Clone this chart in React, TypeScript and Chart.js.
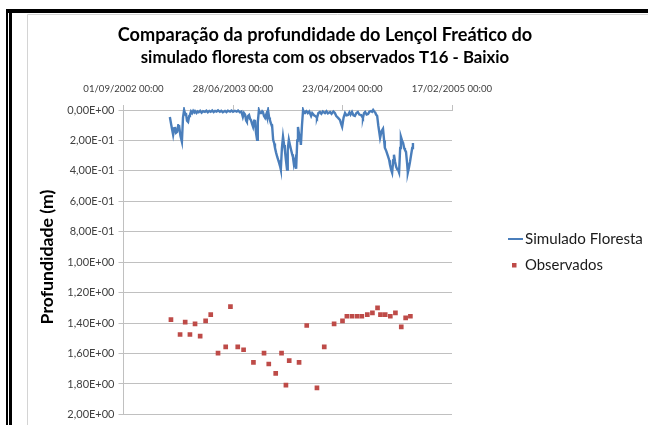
import React, { useEffect, useRef } from 'react';
import { Chart, registerables } from 'chart.js';
Chart.register(...registerables);

// ---- data (x = days since 01/09/2002, y = depth in m) ----
const simDays = [127,131,136,139,141,144,147,150,152,156,160,163,166,169,171,174,177,180,182,185,188,191,194,196,200,203,206,210,214,218,223,227,231,235,239,243,247,251,255,259,264,268,272,278,282,286,292,296,300,305,310,314,319,323,327,330,333,336,338,341,344,347,349,352,355,358,360,363,366,368,371,374,377,380,382,385,388,391,393,395,396,399,401,404,407,410,413,415,418,421,424,426,429,431,434,437,440,442,445,448,450,453,456,459,462,464,467,470,473,476,478,481,484,486,489,492,495,497,501,505,509,514,517,519,522,525,528,530,534,538,542,546,552,556,560,566,570,575,579,583,588,591,593,596,599,603,607,611,615,619,622,626,630,634,638,642,646,651,654,656,659,662,666,670,674,678,681,684,687,689,692,695,698,701,703,707,711,714,716,720,725,728,730,733,736,739,741,744,747,750,752,755,758,760,763,766,769,771,774,777,779,782,785,788,791,793];
const simDepth = [0.046,0.10,0.163,0.12,0.111,0.15,0.144,0.10,0.098,0.17,0.209,0.05,0.0,0.03,0.02,0.07,0.078,0.04,0.033,0.01,0.02,0.005,0.015,0.007,0.02,0.01,0.015,0.005,0.018,0.008,0.012,0.004,0.015,0.006,0.012,0.003,0.014,0.006,0.01,0.002,0.012,0.005,0.015,0.006,0.014,0.004,0.01,0.003,0.012,0.005,0.01,0.003,0.015,0.01,0.046,0.02,0.03,0.07,0.078,0.04,0.033,0.06,0.065,0.09,0.111,0.07,0.065,0.15,0.196,0.08,0.0,0.02,0.02,0.008,0.013,0.04,0.052,0.03,0.046,0.01,0.0,0.05,0.065,0.09,0.098,0.196,0.22,0.248,0.28,0.307,0.33,0.346,0.37,0.392,0.25,0.176,0.23,0.261,0.33,0.392,0.26,0.196,0.23,0.261,0.29,0.307,0.359,0.33,0.386,0.2,0.111,0.16,0.183,0.229,0.1,0.0,0.02,0.013,0.007,0.02,0.01,0.039,0.02,0.02,0.035,0.039,0.045,0.052,0.02,0.013,0.025,0.01,0.02,0.008,0.022,0.013,0.025,0.01,0.02,0.04,0.052,0.06,0.065,0.09,0.111,0.05,0.02,0.035,0.033,0.015,0.03,0.013,0.035,0.039,0.02,0.013,0.03,0.033,0.045,0.052,0.02,0.013,0.03,0.026,0.01,0.007,0.012,0.0,0.01,0.013,0.03,0.039,0.1,0.15,0.183,0.14,0.124,0.2,0.248,0.27,0.307,0.33,0.359,0.39,0.412,0.33,0.294,0.34,0.373,0.39,0.392,0.412,0.25,0.176,0.2,0.216,0.25,0.261,0.275,0.35,0.412,0.38,0.34,0.294,0.25,0.216];

const obsDays = [130,155,169,182,196,210,225,239,259,280,293,313,329,356,385,398,417,433,445,454,481,502,530,550,577,600,612,626,640,653,668,682,696,704,717,731,745,761,773,786];
const obsDepth = [1.377,1.475,1.394,1.475,1.405,1.486,1.386,1.344,1.597,1.556,1.292,1.556,1.575,1.658,1.597,1.669,1.73,1.597,1.808,1.647,1.658,1.416,1.826,1.556,1.405,1.386,1.355,1.355,1.355,1.355,1.344,1.333,1.30,1.344,1.344,1.355,1.333,1.425,1.366,1.355];

const titleLines = ['Comparação da profundidade do Lençol Freático do', 'simulado floresta com os observados T16 - Baixio'];
const yTitle = 'Profundidade (m)';
const seriesNames = ['Simulado Floresta', 'Observados'];
const xTickStepDays = 300;
const xMaxDays = 900;
const yMax = 2.0;
const yStep = 0.2;

const BLUE = '#4a7ebb';
const RED = '#be4b48';
const FONT = 'Lato, "Open Sans", sans-serif';

function sci(v: number): string {
  const s = v.toExponential(2);
  const [m, e] = s.split('e');
  const n = parseInt(e, 10);
  return m.replace('.', ',') + 'E' + (n < 0 ? '-' : '+') + String(Math.abs(n)).padStart(2, '0');
}
function fmtDate(days: number): string {
  const d = new Date(Date.UTC(2002, 8, 1) + Math.round(days) * 86400000);
  const p = (n: number) => String(n).padStart(2, '0');
  return `${p(d.getUTCDate())}/${p(d.getUTCMonth() + 1)}/${d.getUTCFullYear()} 00:00`;
}

function fitText(ctx: CanvasRenderingContext2D, text: string, weight: string, base: number, target: number) {
  ctx.font = `${weight} ${base}px ${FONT}`;
  const w = ctx.measureText(text).width;
  const size = base * target / w;
  ctx.font = `${weight} ${size}px ${FONT}`;
}

const decor = {
  id: 'decor',
  beforeDraw(chart: any) {
    const ctx = chart.ctx as CanvasRenderingContext2D;
    ctx.save();
    ctx.fillStyle = '#ffffff';
    ctx.fillRect(0, 0, chart.width, chart.height);
    // light inner border
    ctx.strokeStyle = '#d4d4d4';
    ctx.lineWidth = 1;
    ctx.beginPath();
    ctx.moveTo(27.5, chart.height);
    ctx.lineTo(27.5, 14.5);
    ctx.lineTo(chart.width, 14.5);
    ctx.stroke();
    // black frame
    ctx.fillStyle = '#000000';
    ctx.fillRect(6, 9, chart.width - 6, 4);
    ctx.fillRect(6, 9, 2, chart.height - 9);
    ctx.fillRect(9, 9, 3, chart.height - 9);
    ctx.restore();
  },
  afterDraw(chart: any) {
    const ctx = chart.ctx as CanvasRenderingContext2D;
    ctx.save();
    ctx.fillStyle = '#000000';
    ctx.textAlign = 'center';
    ctx.textBaseline = 'middle';
    fitText(ctx, titleLines[0], 'bold', 18, 415);
    ctx.fillText(titleLines[0], 325, 35);
    fitText(ctx, titleLines[1], 'bold', 18, 369);
    ctx.fillText(titleLines[1], 325, 58);
    // y title
    ctx.save();
    ctx.translate(47, 257);
    ctx.rotate(-Math.PI / 2);
    fitText(ctx, yTitle, 'bold', 14, 135);
    ctx.fillText(yTitle, 0, 0);
    ctx.restore();
    // legend
    ctx.textAlign = 'left';
    ctx.fillStyle = '#1a1a1a';
    ctx.strokeStyle = BLUE;
    ctx.lineWidth = 2;
    ctx.beginPath();
    ctx.moveTo(508, 239);
    ctx.lineTo(523, 239);
    ctx.stroke();
    fitText(ctx, seriesNames[0], 'normal', 14, 118);
    ctx.fillText(seriesNames[0], 525, 239);
    ctx.fillStyle = RED;
    ctx.fillRect(512, 263, 4.5, 4.5);
    ctx.fillStyle = '#1a1a1a';
    fitText(ctx, seriesNames[1], 'normal', 14, 78);
    ctx.fillText(seriesNames[1], 525, 265);
    ctx.restore();
  },
};

export default function App() {
  const ref = useRef<HTMLCanvasElement>(null);
  useEffect(() => {
    if (!ref.current) return;
    const chart = new Chart(ref.current, {
      data: {
        datasets: [
          {
            type: 'line',
            label: seriesNames[0],
            data: simDays.map((d, i) => ({ x: d, y: simDepth[i] })),
            borderColor: BLUE,
            backgroundColor: BLUE,
            borderWidth: 2.4,
            pointRadius: 0,
            tension: 0,
            clip: 3,
          },
          {
            type: 'scatter',
            label: seriesNames[1],
            data: obsDays.map((d, i) => ({ x: d, y: obsDepth[i] })),
            backgroundColor: RED,
            borderColor: RED,
            borderWidth: 0,
            pointStyle: 'rect',
            pointRadius: 3.3,
          },
        ],
      } as any,
      options: {
        animation: false,
        responsive: false,
        maintainAspectRatio: false,
        layout: { padding: { left: 0, top: 80, right: 648 - 452, bottom: 425 - 416 } },
        plugins: { legend: { display: false }, title: { display: false }, tooltip: { enabled: false } },
        scales: {
          x: {
            type: 'linear',
            position: 'top',
            min: 0,
            max: xMaxDays,
            afterFit: (s: any) => { s.height = 30; },
            afterBuildTicks: (s: any) => {
              const t = [];
              for (let v = 0; v <= xMaxDays; v += xTickStepDays) t.push({ value: v });
              s.ticks = t;
            },
            ticks: {
              callback: (v: any) => fmtDate(Number(v)),
              font: { family: FONT, size: 9.6 },
              color: '#404040',
              padding: 10,
              maxRotation: 0,
              autoSkip: false,
            },
            grid: { drawOnChartArea: false, drawTicks: true, tickLength: 5, color: '#c0c0c0' },
            border: { display: true, color: '#c0c0c0' },
          },
          y: {
            type: 'linear',
            reverse: true,
            min: 0,
            max: yMax,
            afterFit: (s: any) => { s.width = 123.5; },
            ticks: {
              stepSize: yStep,
              callback: (v: any) => sci(Number(v)),
              font: { family: FONT, size: 11 },
              color: '#404040',
              padding: 4,
            },
            grid: { color: '#c0c0c0', tickLength: 5 },
            border: { display: true, color: '#c0c0c0' },
          },
        },
      } as any,
      plugins: [decor],
    });
    return () => chart.destroy();
  }, []);
  return (
    <div style={{ position: 'fixed', left: 0, top: 0, width: 648, height: 425 }}>
      <canvas ref={ref} width={648} height={425} style={{ width: 648, height: 425, display: 'block' }} />
    </div>
  );
}
